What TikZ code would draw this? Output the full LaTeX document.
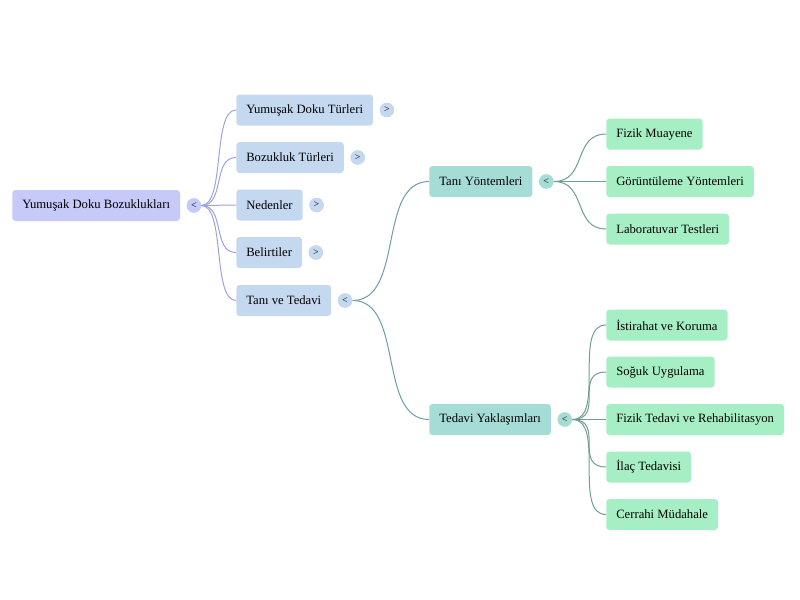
\documentclass[tikz,border=0pt]{standalone}
\usepackage{fontspec}
\setmainfont{Liberation Serif}
\usetikzlibrary{positioning}

\definecolor{rootfill}{HTML}{C7C9F8}
\definecolor{branchfill}{HTML}{C4D8F0}
\definecolor{subfill}{HTML}{A5DCD5}
\definecolor{leaffill}{HTML}{A6EEC4}
\definecolor{rootline}{HTML}{9DA3DE}
\definecolor{branchline}{HTML}{6F9CAA}
\definecolor{subline}{HTML}{6F9E92}

\begin{document}
\begin{tikzpicture}[x=0.75pt,y=-0.75pt,
      topic/.style={rounded corners=2.5pt, minimum height=23.25pt, inner xsep=7.5pt, anchor=west, font=\fontsize{9.5}{11}\selectfont},
      rootnode/.style={topic, fill=rootfill},
      branch/.style={topic, fill=branchfill},
      sub/.style={topic, fill=subfill},
      leaf/.style={topic, fill=leaffill},
      toggle/.style={circle, inner sep=0pt, minimum size=11pt, font=\fontsize{7.5}{8}\selectfont},
      link/.style={line width=0.75pt}
    ]
    \useasboundingbox (0,0) rectangle (800,600);

    % root
    \node[rootnode] (root) at (12,205.5) {Yumuşak Doku Bozuklukları};
    \node[toggle, fill=rootfill, right=4.5pt of root] (troot) {<};

    % first level
    \node[branch] (b1) at (236,110) {Yumuşak Doku Türleri};
    \node[branch] (b2) at (236,157.5) {Bozukluk Türleri};
    \node[branch] (b3) at (236,205) {Nedenler};
    \node[branch] (b4) at (236,252.5) {Belirtiler};
    \node[branch] (b5) at (236,300.5) {Tanı ve Tedavi};
    \foreach \b/\s in {b1/>,b2/>,b3/>,b4/>,b5/<}{%
      \node[toggle, fill=branchfill, right=4.5pt of \b] (t\b) {\s};
      \draw[link, rootline] (troot.east) .. controls ([xshift=18]troot.east) and ([xshift=-18]\b.west) .. (\b.west);
    }

    % second level
    \node[sub] (s1) at (429,181.5) {Tanı Yöntemleri};
    \node[sub] (s2) at (429,419.5) {Tedavi Yaklaşımları};
    \foreach \s in {s1,s2}{%
      \node[toggle, fill=subfill, right=4.5pt of \s] (t\s) {<};
      \draw[link, branchline] (tb5.east) .. controls ([xshift=39]tb5.east) and ([xshift=-39]\s.west) .. (\s.west);
    }

    % leaves
    \node[leaf] (l1) at (606,134) {Fizik Muayene};
    \node[leaf] (l2) at (606,181.5) {Görüntüleme Yöntemleri};
    \node[leaf] (l3) at (606,229) {Laboratuvar Testleri};
    \node[leaf] (l4) at (606,325) {İstirahat ve Koruma};
    \node[leaf] (l5) at (606,372) {Soğuk Uygulama};
    \node[leaf] (l6) at (606,419.5) {Fizik Tedavi ve Rehabilitasyon};
    \node[leaf] (l7) at (606,467) {İlaç Tedavisi};
    \node[leaf] (l8) at (606,514.5) {Cerrahi Müdahale};
    \foreach \p/\l in {s1/l1,s1/l2,s1/l3,s2/l4,s2/l5,s2/l6,s2/l7,s2/l8}{%
      \draw[link, subline] (t\p.east) .. controls ([xshift=25]t\p.east) and ([xshift=-25]\l.west) .. (\l.west);
    }
  \end{tikzpicture}
\end{document}
